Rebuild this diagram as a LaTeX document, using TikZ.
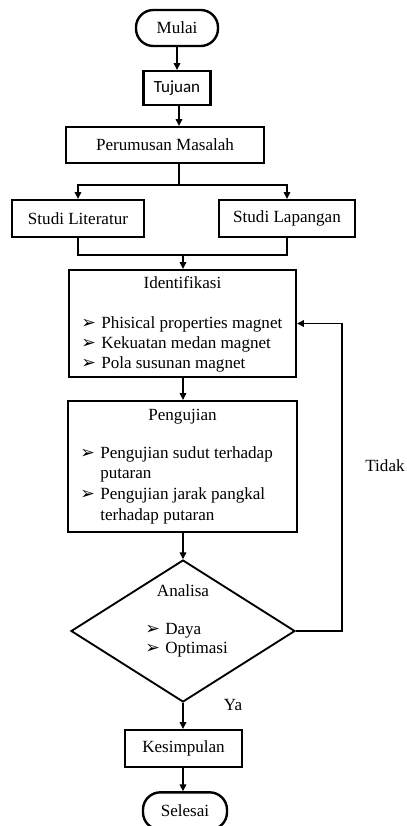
\documentclass[tikz,border=0pt]{standalone}
\usepackage{fontspec}
\setmainfont{Liberation Serif}
\newfontfamily\calfont{Carlito}
\newfontfamily\symfont{DejaVu Sans}
\usetikzlibrary{arrows.meta,shapes.geometric}
\newcommand{\blt}{\makebox[15pt][l]{\symfont\fontsize{13}{10}\selectfont ➢}}
\newcommand{\nxt}{\makebox[15pt]{}}
\tikzset{box/.style={draw,line width=1.8pt,inner sep=0pt,font=\fontsize{12.8}{15}\selectfont},arr/.style={-{Triangle[length=5pt,width=5pt]},line width=0.8pt},
  txt/.style={inner sep=0pt,font=\fontsize{12.8}{15}\selectfont},lst/.style={txt,align=left,anchor=north west}}

\begin{document}
\begin{tikzpicture}[x=0.75pt,y=-0.75pt]
\useasboundingbox (0,0) rectangle (407,826);
\node[box,rounded corners=13pt,minimum width=61.5pt,minimum height=27pt] (mulai) at (177,28) {Mulai};
\node[box,minimum width=50.25pt,minimum height=25.5pt,font=\calfont\fontsize{12.8}{15}\selectfont] (tujuan) at (177,88) {Tujuan};
\node[box,minimum width=148.5pt,minimum height=27pt] (rumus) at (165,145) {Perumusan Masalah};
\node[box,minimum width=99pt,minimum height=27.75pt] (lit) at (78,218.5) {Studi Literatur};
\node[box,minimum width=102pt,minimum height=27.75pt] (lap) at (287,218.5) {Studi Lapangan};
\node[box,minimum width=170.25pt,minimum height=80.25pt] (idf) at (182.5,323.5) {};
\node[box,minimum width=171.75pt,minimum height=98.25pt] (uji) at (182.5,466.5) {};
\node[box,diamond,line width=1.4pt,minimum width=168pt,minimum height=106.5pt] (ana) at (183,631) {};
\node[box,minimum width=87.75pt,minimum height=27.75pt] (kes) at (183.5,748.5) {Kesimpulan};
\node[box,rounded corners=13pt,minimum width=63pt,minimum height=28pt] (sel) at (185,811) {Selesai};
% isi kotak
\node[txt] (idft) at (182.5,283) {Identifikasi};
\node[lst] (idfl) at (81,316) {\blt Phisical properties magnet\\ \blt Kekuatan medan magnet\\ \blt Pola susunan magnet};
\node[txt] (ujit) at (182.5,417) {Pengujian};
\node[lst,font=\fontsize{12.8}{15.5}\selectfont] (ujil) at (80,446) {\blt Pengujian sudut terhadap\\ \nxt putaran\\ \blt Pengujian jarak pangkal\\ \nxt terhadap putaran};
\node[txt] (anat) at (183,591) {Analisa};
\node[lst,font=\fontsize{12.8}{14.3}\selectfont] (anal) at (145,623) {\blt Daya\\ \blt Optimasi};
\node[txt] (tidak) at (385,466) {Tidak};
\node[txt] (ya) at (233,705) {Ya};
% garis
\coordinate (split) at (179,185);
\coordinate (merge) at (183,255);
\coordinate (back) at (342,631);
\draw[arr] (mulai) -- (tujuan);
\draw[arr] (tujuan.south -| split) -- (rumus.north -| split);
\draw[line width=0.8pt] (rumus.south -| split) -- (split);
\draw[arr] (split) -| (lit.north);
\draw[arr] (split) -| (lap.north);
\draw[line width=0.8pt] (lit.south) |- (merge) -| (lap.south);
\draw[arr] (merge) -- (idf.north -| merge);
\draw[arr] (idf.south -| merge) -- (uji.north -| merge);
\draw[arr] (uji.south -| merge) -- (ana.north);
\draw[arr] (ana.south) -- (kes.north -| ana.south);
\draw[arr] (kes.south -| ana.south) -- (sel.north -| ana.south);
\draw[arr] (ana.east) -- (back) |- (idf.east);
\end{tikzpicture}
\end{document}
